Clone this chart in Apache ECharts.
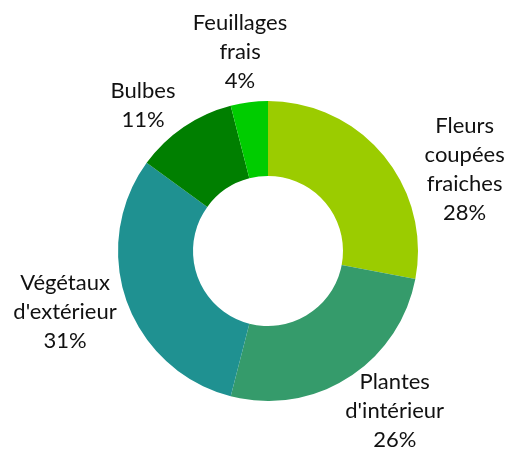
<!DOCTYPE html>
<html>
<head>
<meta charset="utf-8">
<script src="https://cdn.jsdelivr.net/npm/echarts@6/dist/echarts.min.js"></script>
<style>
  html, body { margin: 0; padding: 0; background: #fff; }
  #chart { width: 507px; height: 450px; }
</style>
</head>
<body>
<div id="chart"></div>
<script>
// categories (line breaks as in the labels) and their shares in %
const categories = ['Fleurs\ncoupées\nfraiches', "Plantes\nd'intérieur", "Végétaux\nd'extérieur", 'Bulbes', 'Feuillages\nfrais'];
const shares = [28, 26, 31, 11, 4];
const colors = ['#9bcc00', '#359b6b', '#1f9191', '#007f00', '#00cc00'];

const cx = 268, cy = 251;                   // pie centre
const labelDist = [213, 204, 212, 192, 201];  // label distance from centre
const labelNudge = [17, -6, 3, -6.4, -0.8];   // degrees, keeps labels clear of the ring

var myChart = echarts.init(document.getElementById('chart'));

const total = shares.reduce((a, b) => a + b, 0);

myChart.setOption({
  animation: false,
  series: [{
    type: 'pie',
    center: [cx, cy],
    radius: [75, 150],
    startAngle: 90,
    clockwise: true,
    avoidLabelOverlap: false,
    itemStyle: { borderWidth: 0 },
    label: {
      show: true,
      position: 'outside',
      formatter: '{b}\n{c}%',
      fontFamily: 'Lato',
      fontSize: 22,
      lineHeight: 29,
      color: '#111'
    },
    labelLine: { show: false },
    labelLayout: function (params) {
      var i = params.dataIndex;
      var before = 0;
      for (var k = 0; k < i; k++) before += shares[k];
      var mid = (before + shares[i] / 2) / total * 360 + labelNudge[i];
      var a = mid * Math.PI / 180;
      return {
        x: cx + labelDist[i] * Math.sin(a),
        y: cy - labelDist[i] * Math.cos(a),
        align: 'center',
        verticalAlign: 'middle'
      };
    },
    data: categories.map((name, i) => ({
      name: name,
      value: shares[i],
      itemStyle: { color: colors[i] }
    }))
  }]
});
</script>
</body>
</html>
